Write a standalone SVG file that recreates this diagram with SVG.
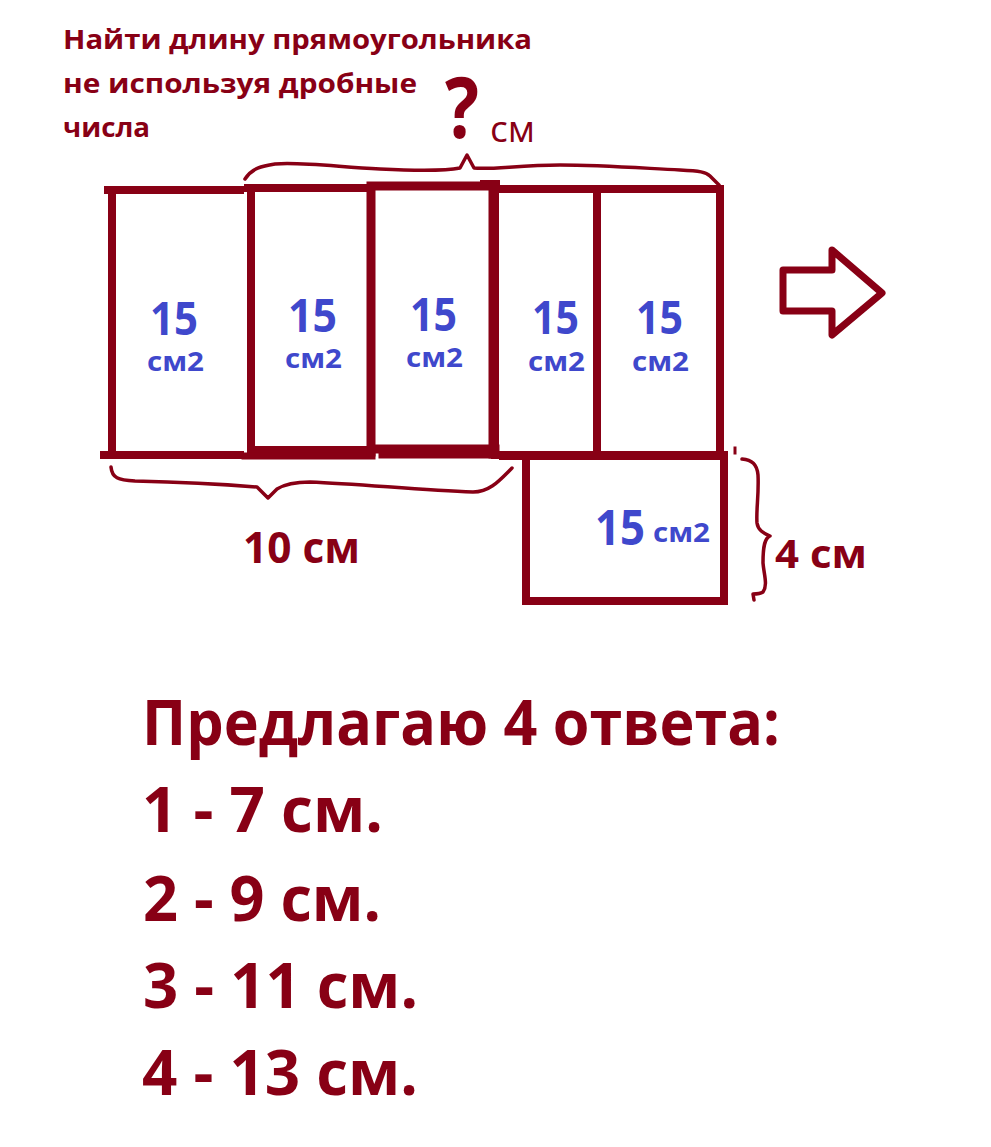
<svg xmlns="http://www.w3.org/2000/svg" width="991" height="1147" viewBox="0 0 991 1147">
<style>
.red{fill:#880015;font-family:"Open Sans","Liberation Sans",sans-serif;font-weight:bold}
.blue{fill:#3F48CC;font-family:"Open Sans","Liberation Sans",sans-serif;font-weight:bold}
.ln{stroke:#880015;fill:none;stroke-linecap:square}
.br{stroke:#880015;fill:none;stroke-width:3.5;stroke-linecap:round;stroke-linejoin:round}
</style>
<rect width="991" height="1147" fill="#ffffff"/>
<g id="title">
<text class="red" x="63" y="49" font-size="27" textLength="469" lengthAdjust="spacingAndGlyphs">Найти длину прямоугольника</text>
<text class="red" x="63" y="93" font-size="27" textLength="354" lengthAdjust="spacingAndGlyphs">не используя дробные</text>
<text class="red" x="63" y="137" font-size="27" textLength="87" lengthAdjust="spacingAndGlyphs">числа</text>
</g>
<g id="question">
<text class="red" x="445" y="138" font-size="84" textLength="34" lengthAdjust="spacingAndGlyphs">?</text>
<text x="490" y="142" font-size="36" fill="#880015" font-family="'Open Sans','Liberation Sans',sans-serif" textLength="45" lengthAdjust="spacingAndGlyphs">см</text>
</g>
<g id="rect1">
<path class="ln" stroke-width="8" d="M112,190 V455 M108,190 H240 M104,455 H240"/>
<text class="blue" x="150" y="335" font-size="46" textLength="48" lengthAdjust="spacingAndGlyphs">15</text>
<text class="blue" x="147" y="371" font-size="27" textLength="57" lengthAdjust="spacingAndGlyphs">см2</text>
</g>
<g id="rect2">
<path class="ln" stroke-width="8" d="M251,188 V452 M248,188 H371 M251,450 H371"/>
<path class="ln" stroke-width="7" d="M245,456 H372"/>
<text class="blue" x="288" y="332" font-size="46" textLength="49" lengthAdjust="spacingAndGlyphs">15</text>
<text class="blue" x="285" y="368" font-size="27" textLength="57" lengthAdjust="spacingAndGlyphs">см2</text>
</g>
<g id="rect3">
<path class="ln" stroke-width="9" d="M371,186 V452 M371,186 H493 M493,186 V454 M376,449 H495"/>
<path class="ln" stroke-width="7" d="M382,455 H497"/>
<text class="blue" x="410" y="331" font-size="46" textLength="47" lengthAdjust="spacingAndGlyphs">15</text>
<text class="blue" x="406" y="367" font-size="27" textLength="57" lengthAdjust="spacingAndGlyphs">см2</text>
</g>
<g id="rect4">
<path class="ln" stroke-width="8" d="M495,189 V455 M495,189 H597 M495,455 H597 M484,184 H496"/>
<text class="blue" x="532" y="334" font-size="46" textLength="47" lengthAdjust="spacingAndGlyphs">15</text>
<text class="blue" x="528" y="371" font-size="27" textLength="57" lengthAdjust="spacingAndGlyphs">см2</text>
</g>
<g id="rect5">
<path class="ln" stroke-width="8" d="M597,189 V455 M597,189 H720 M720,189 V455 M597,455 H724"/>
<text class="blue" x="636" y="334" font-size="46" textLength="47" lengthAdjust="spacingAndGlyphs">15</text>
<text class="blue" x="632" y="371" font-size="27" textLength="57" lengthAdjust="spacingAndGlyphs">см2</text>
</g>
<g id="rect6">
<path class="ln" stroke-width="8" d="M526,463 V601 M526,601 H724 M724,456 V601 M503,456 H724"/>
<text class="blue" x="595" y="545" font-size="48" textLength="50" lengthAdjust="spacingAndGlyphs">15</text>
<text class="blue" x="653" y="542" font-size="27" textLength="57" lengthAdjust="spacingAndGlyphs">см2</text>
</g>
<g id="arrow">
<polygon points="783,270 832,270 832,250 882,293 832,335 832,311 783,311" fill="none" stroke="#880015" stroke-width="7" stroke-linejoin="round"/>
</g>
<g id="connectors">
<path class="br" d="M245,179 C252,168 262,166 275,164 C300,162 330,166 380,169 C420,171 450,170 460,168 L467,155 L474,168 C490,170 520,165 560,165 C600,165 640,168 680,170 C700,171 706,172 710,176 L719,185"/>
<path class="br" d="M111,467 C112,478 118,480 135,481 C180,482 220,484 257,487 L268,498 L277,489 C285,484 295,482 310,482 C360,484 420,490 473,492 C490,492 500,480 512,468"/>
<path class="br" d="M742,459 C752,460 757,464 758,475 C759,495 756,510 757,523 C758,530 763,533 770,536 C765,538 763,545 763,563 C764,575 768,585 763,592 C760,594 756,594 753,594 L754,600"/>
<path class="ln" stroke-width="3" d="M735,448 V453"/>
</g>
<g id="labels">
<text class="red" x="243" y="563" font-size="43" textLength="117" lengthAdjust="spacingAndGlyphs">10 см</text>
<text class="red" x="775" y="568" font-size="40" textLength="92" lengthAdjust="spacingAndGlyphs">4 см</text>
</g>
<g id="answers">
<text class="red" x="142" y="745" font-size="63" textLength="638" lengthAdjust="spacingAndGlyphs">Предлагаю 4 ответа:</text>
<text class="red" x="142" y="832" font-size="63" textLength="241" lengthAdjust="spacingAndGlyphs">1 - 7 см.</text>
<text class="red" x="143" y="921" font-size="63" textLength="238" lengthAdjust="spacingAndGlyphs">2 - 9 см.</text>
<text class="red" x="143" y="1008" font-size="63" textLength="275" lengthAdjust="spacingAndGlyphs">3 - 11 см.</text>
<text class="red" x="142" y="1095" font-size="63" textLength="276" lengthAdjust="spacingAndGlyphs">4 - 13 см.</text>
</g>
</svg>
